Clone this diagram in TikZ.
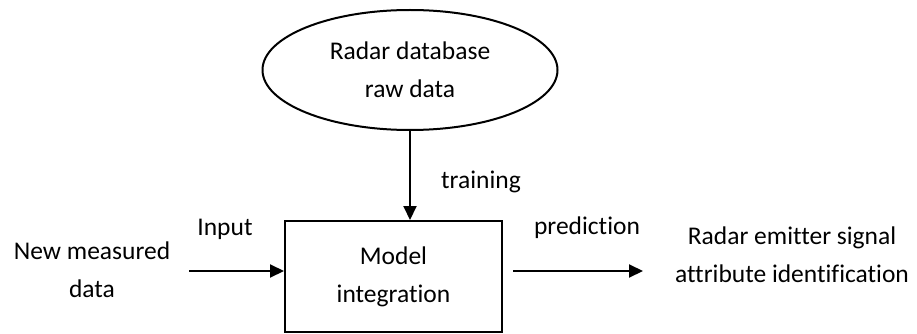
\documentclass[tikz,border=0pt]{standalone}
\usepackage{fontspec}
\setmainfont{Carlito}[Ligatures={NoCommon,NoContextual}]
\usetikzlibrary{shapes.geometric,arrows.meta}
\tikzset{
  lbl/.style={font=\fontsize{25.5}{38}\selectfont, align=center, inner sep=0pt},
  shp/.style={draw=black, line width=2pt, inner sep=0pt},
  arr/.style={line width=2pt, -{Triangle[length=14pt,width=13pt]}}
}
\begin{document}
\begin{tikzpicture}[x=1pt,y=-1pt]
\useasboundingbox (0,0) rectangle (917,334);
\node[shp, ellipse, minimum width=295pt, minimum height=120pt, lbl] (db) at (410,70) {Radar database\\raw data};
\node[shp, rectangle, minimum width=217pt, minimum height=111pt, lbl] (mi) at (393.5,276.5) {Model\\integration};
\node[lbl] (nm) at (92,270) {New measured\\data};
\node[lbl] (re) at (792,255) {Radar emitter signal\\attribute identification};
\node[lbl] (inl) at (225,229) {Input};
\node[lbl] (trl) at (481,182) {training};
\node[lbl] (prl) at (587,228) {prediction};
\coordinate (inS) at (189,271);
\coordinate (outS) at (513,271);
\coordinate (outE) at (643,271);
\draw[arr] (db.south) -- (db.south |- mi.north);
\draw[arr] (inS) -- (inS -| mi.west);
\draw[arr] (outS) -- (outE);
\end{tikzpicture}
\end{document}
